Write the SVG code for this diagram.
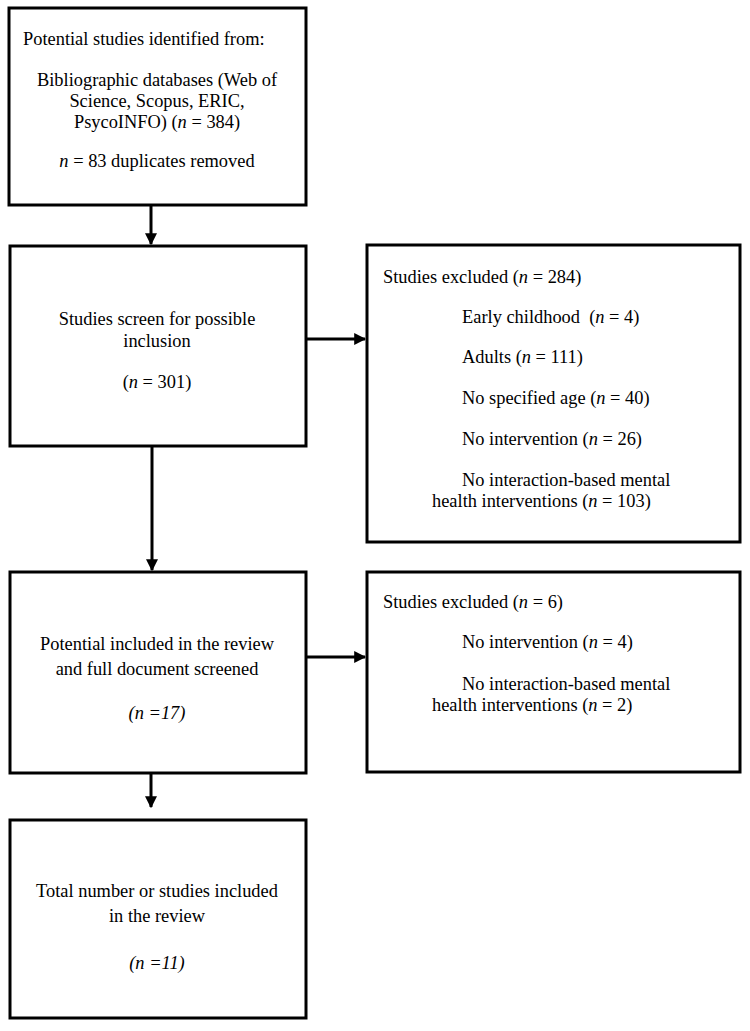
<svg xmlns="http://www.w3.org/2000/svg" width="750" height="1031" viewBox="0 0 750 1031">
<style>
.box{fill:#fff;stroke:#000;stroke-width:3}
.t{font-family:"Liberation Serif","Times New Roman",serif;font-size:18.4px;fill:#000}
.c{text-anchor:middle}
.conn{stroke:#000;stroke-width:3;fill:none}
</style>
<defs>
<marker id="ah" viewBox="0 0 10 10" refX="9" refY="5" markerWidth="4" markerHeight="4" markerUnits="strokeWidth" orient="auto">
<path d="M0,0 L10,5 L0,10 z" fill="#000"/>
</marker>
</defs>
<rect width="750" height="1031" fill="#fff"/>
<g id="connectors">
<line class="conn" x1="151" y1="205" x2="151" y2="244" marker-end="url(#ah)"/>
<line class="conn" x1="306" y1="339" x2="365" y2="339" marker-end="url(#ah)"/>
<line class="conn" x1="152" y1="446" x2="152" y2="570" marker-end="url(#ah)"/>
<line class="conn" x1="306" y1="657" x2="365" y2="657" marker-end="url(#ah)"/>
<line class="conn" x1="151" y1="773" x2="151" y2="807" marker-end="url(#ah)"/>
</g>
<g id="node-identified">
<rect class="box" x="9" y="8" width="297" height="197"/>
<text class="t" x="23" y="45">Potential studies identified from:</text>
<text class="t c" x="157" y="86">Bibliographic databases (Web of</text>
<text class="t c" x="157" y="107">Science, Scopus, ERIC,</text>
<text class="t c" x="157" y="128">PsycoINFO) (<tspan font-style="italic">n</tspan> = 384)</text>
<text class="t c" x="157" y="167"><tspan font-style="italic">n</tspan> = 83 duplicates removed</text>
</g>
<g id="node-screen">
<rect class="box" x="10" y="246" width="296" height="200"/>
<text class="t c" x="157" y="325">Studies screen for possible</text>
<text class="t c" x="157" y="347">inclusion</text>
<text class="t c" x="157" y="388">(<tspan font-style="italic">n</tspan> = 301)</text>
</g>
<g id="node-excluded1">
<rect class="box" x="367" y="245" width="373" height="297"/>
<text class="t" x="383" y="283">Studies excluded (<tspan font-style="italic">n</tspan> = 284)</text>
<text class="t" x="462" y="323">Early childhood &#160;(<tspan font-style="italic">n</tspan> = 4)</text>
<text class="t" x="462" y="363">Adults (<tspan font-style="italic">n</tspan> = 111)</text>
<text class="t" x="462" y="404">No specified age (<tspan font-style="italic">n</tspan> = 40)</text>
<text class="t" x="462" y="445">No intervention (<tspan font-style="italic">n</tspan> = 26)</text>
<text class="t" x="462" y="486">No interaction-based mental</text>
<text class="t" x="432" y="507">health interventions (<tspan font-style="italic">n</tspan> = 103)</text>
</g>
<g id="node-potential">
<rect class="box" x="10" y="572" width="296" height="201"/>
<text class="t c" x="157" y="650">Potential included in the review</text>
<text class="t c" x="157" y="675">and full document screened</text>
<text class="t c" x="157" y="719" font-style="italic">(n =17)</text>
</g>
<g id="node-excluded2">
<rect class="box" x="367" y="572" width="373" height="200"/>
<text class="t" x="383" y="608">Studies excluded (<tspan font-style="italic">n</tspan> = 6)</text>
<text class="t" x="462" y="648">No intervention (<tspan font-style="italic">n</tspan> = 4)</text>
<text class="t" x="462" y="690">No interaction-based mental</text>
<text class="t" x="432" y="711">health interventions (<tspan font-style="italic">n</tspan> = 2)</text>
</g>
<g id="node-total">
<rect class="box" x="10" y="820" width="296" height="198"/>
<text class="t c" x="157" y="897">Total number or studies included</text>
<text class="t c" x="157" y="922">in the review</text>
<text class="t c" x="157" y="969" font-style="italic">(n =11)</text>
</g>
</svg>
